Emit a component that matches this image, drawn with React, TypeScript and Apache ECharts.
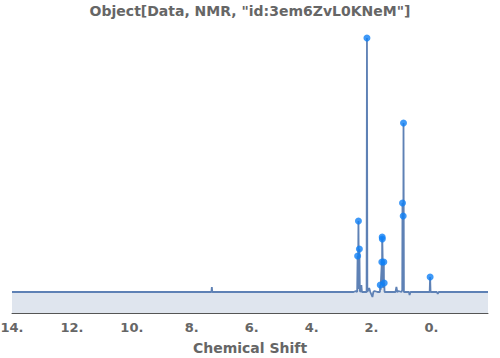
import React, { useEffect, useRef } from "react";
import * as echarts from "echarts";

const titleText = 'Object[Data, NMR, "id:3em6ZvL0KNeM"]';
const axisName = "Chemical Shift";
const tickLabels = [14, 12, 10, 8, 6, 4, 2, 0];
const tickMarks = [14, 13.5, 13, 12.5, 12, 11.5, 11, 10.5, 10, 9.5, 9, 8.5, 8, 7.5, 7, 6.5, 6, 5.5, 5, 4.5, 4, 3.5, 3, 2.5, 2, 1.5, 1, 0.5, 0, -0.5, -1, -1.5];

// spectrum trace (chemical shift in ppm, intensity in arbitrary units)
const spectrumPpm = [
  14.0, 7.4, 7.345, 7.33, 7.315, 7.25, 2.6, 2.52, 2.48, 2.465, 2.452, 2.437, 2.422, 2.405, 2.39,
  2.36, 2.34, 2.32, 2.165, 2.153, 2.14, 2.08, 2.04, 1.97, 1.94, 1.9, 1.8, 1.72, 1.71, 1.7,
  1.657, 1.65, 1.645, 1.641, 1.61, 1.59, 1.585, 1.577, 1.565, 1.45, 1.2, 1.17, 1.14, 1.1, 1.0,
  0.975, 0.967, 0.955, 0.943, 0.938, 0.933, 0.92, 0.85, 0.75, 0.73, 0.7, 0.06, 0.045, 0.03,
  -0.18, -0.21, -0.24, -1.887,
];
const spectrumIntensity = [
  0, 0, 0, 5, 0, 0, 0, 1, 0, 36, 3, 71, 4, 43, 1,
  0, 7, 0, 0, 254, 0, 4, 0, -5, 0, 1, 0, 0, 7, 2,
  30, 8, 55, 53, 4, 30, 6, 9, 0, 0, 0, 5, 0, 1, 0,
  2, 89, 10, 76, 60, 169, 0, 0, 0, -3, 0, 0, 15, 0,
  0, -2, 0, 0,
];

// picked peaks
const peakPpm = [2.465, 2.437, 2.405, 2.153, 1.71, 1.657, 1.645, 1.641, 1.59, 1.577, 0.967, 0.943, 0.933, 0.045];
const peakIntensity = [36, 71, 43, 254, 7, 30, 55, 53, 30, 9, 89, 76, 169, 15];

export default function App() {
  const ref = useRef<HTMLDivElement>(null);
  useEffect(() => {
    if (!ref.current) return;
    const chart = echarts.init(ref.current, undefined, { renderer: "svg" });
    const lineData = spectrumPpm.map((p, i) => [p, spectrumIntensity[i]]);
    const peakData = peakPpm.map((p, i) => [p, peakIntensity[i]]);
    const font = "DejaVu Sans";
    chart.setOption({
      animation: false,
      backgroundColor: "#ffffff",
      title: {
        text: titleText,
        left: "center",
        top: 3.5,
        padding: 0,
        textStyle: { fontFamily: font, fontWeight: "bold", fontSize: 14, color: "#666666" },
      },
      grid: { left: 12, right: 12, top: 25, bottom: 45, containLabel: false, outerBoundsMode: "none" },
      xAxis: {
        type: "value",
        inverse: true,
        min: -1.887,
        max: 14,
        name: axisName,
        nameLocation: "middle",
        nameGap: 28,
        nameTextStyle: { fontFamily: font, fontWeight: "bold", fontSize: 14, color: "#666666" },
        axisLine: { show: true, onZero: false, lineStyle: { color: "#555555", width: 1 } },
        axisTick: { show: true, inside: true, length: 2.5, customValues: tickMarks, lineStyle: { color: "#444444" } },
        axisLabel: {
          customValues: tickLabels,
          formatter: (v: number) => `${v}.`,
          margin: 8,
          fontFamily: font,
          fontWeight: "bold",
          fontSize: 13,
          color: "#666666",
        },
        splitLine: { show: false },
      },
      yAxis: { type: "value", min: -21, max: 267, show: false, splitLine: { show: false } },
      series: [
        {
          type: "line",
          data: lineData,
          showSymbol: false,
          smooth: false,
          lineStyle: { color: "#5e81b5", width: 1.8 },
          areaStyle: { color: "#dfe5ee", opacity: 1, origin: "start" },
          z: 2,
        },
        {
          type: "scatter",
          data: peakData,
          symbolSize: 7,
          itemStyle: { color: "#0f7ff5" },
          z: 3,
        },
      ],
    });
    return () => chart.dispose();
  }, []);
  return <div ref={ref} style={{ position: "absolute", left: 0, top: 0, width: 500, height: 358 }} />;
}
